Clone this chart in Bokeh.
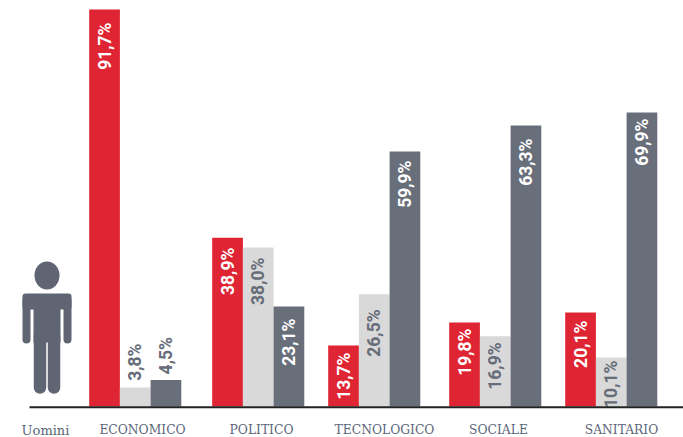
from bokeh.embed import file_html
from bokeh.resources import INLINE
from bokeh.plotting import figure
from bokeh.models import Range1d, ColumnDataSource
from bokeh.core.properties import value

categories = ["ECONOMICO", "POLITICO", "TECNOLOGICO", "SOCIALE", "SANITARIO"]
# Labels printed on the chart
rossi = ["91,7%", "38,9%", "13,7%", "19,8%", "20,1%"]
grigi = ["3,8%", "38,0%", "26,5%", "16,9%", "10,1%"]
scuri = ["4,5%", "23,1%", "59,9%", "63,3%", "69,9%"]
# Bar heights (the original is not exactly to scale)
rossi_h = [91.7, 39.0, 14.1, 19.4, 21.7]
grigi_h = [4.4, 36.7, 25.9, 16.2, 11.3]
scuri_h = [6.1, 23.1, 58.9, 64.9, 67.9]

# Layout
PX = 4.33
BASE = 406
group_left = [88.7, 211.7, 327.7, 448.7, 564.7]
bar_w = 30.7
tick_pos = [142, 261, 384, 498, 621]
offs_r = [13, 10, 7, 6, 8]
offs_g = [-44, 10, 15, 6, 3]
offs_d = [-43, 12, 9, 13, 6]

RED, LIGHT, DARK, ICON = "#DF2433", "#D9D9D9", "#686E7A", "#5F6573"
TXT_D = "#666C78"


def py(page_y):
    return (BASE - page_y) / PX


p = figure(width=683, height=437, output_backend="svg", toolbar_location=None,
           x_range=Range1d(0, 683), y_range=Range1d(py(437), py(0)),
           min_border_left=0, min_border_right=0, min_border_top=0, min_border_bottom=0,
           outline_line_color=None, background_fill_color="white")
p.grid.visible = False
p.axis.visible = False

series = [
    (rossi_h, rossi, offs_r, RED, "white"),
    (grigi_h, grigi, offs_g, LIGHT, TXT_D),
    (scuri_h, scuri, offs_d, DARK, "white"),
]
for k, (heights, labels, offs, col, tcol) in enumerate(series):
    xs = [g + bar_w * (k + 0.5) for g in group_left]
    p.vbar(x=xs, top=heights, bottom=0, width=bar_w, fill_color=col, line_color=None)
for k, (heights, labels, offs, col, tcol) in enumerate(series):
    xs = [g + bar_w * (k + 0.5) for g in group_left]
    tcols = [TXT_D if o < 0 else tcol for o in offs]
    src = ColumnDataSource(dict(x=xs, y=heights, t=labels, o=offs, c=tcols))
    p.text(x="x", y="y", text="t", y_offset="o", angle=1.5708, source=src,
           text_align="right", text_baseline="middle", text_color="c",
           text_font=value("Roboto"), text_font_style="bold", text_font_size="17.5px")

# Baseline
p.segment(x0=[29], x1=[683], y0=[py(406.7)], y1=[py(406.7)], line_color="#222222", line_width=2)

# Category labels
p.text(x=tick_pos, y=[py(429.5)] * 5, text=categories,
       text_align="center", text_baseline="middle", text_color="#5B6679",
       text_font=value("DejaVu Serif"), text_font_size="12.3px")
p.text(x=[45], y=[py(429.5)], text=["Uomini"],
       text_align="center", text_baseline="middle", text_color="#5B6679",
       text_font=value("DejaVu Serif"), text_font_size="13px")

# Person icon
p.ellipse(x=[46.5], y=[py(275)], width=25, height=28 / PX, fill_color=ICON, line_color=None)
p.quad(left=[22], right=[71], top=[py(293)], bottom=[py(309)], fill_color=ICON, line_color=None,
       border_radius=3)
p.quad(left=[33], right=[60], top=[py(300)], bottom=[py(342)], fill_color=ICON, line_color=None)
p.segment(x0=[26, 67], x1=[26, 67], y0=[py(300)] * 2, y1=[py(339)] * 2,
          line_color=ICON, line_width=8, line_cap="round")
p.segment(x0=[39.5, 53.5], x1=[39.5, 53.5], y0=[py(335)] * 2, y1=[py(387)] * 2,
          line_color=ICON, line_width=12.5, line_cap="round")

open("out.html", "w").write(file_html(p, INLINE))
